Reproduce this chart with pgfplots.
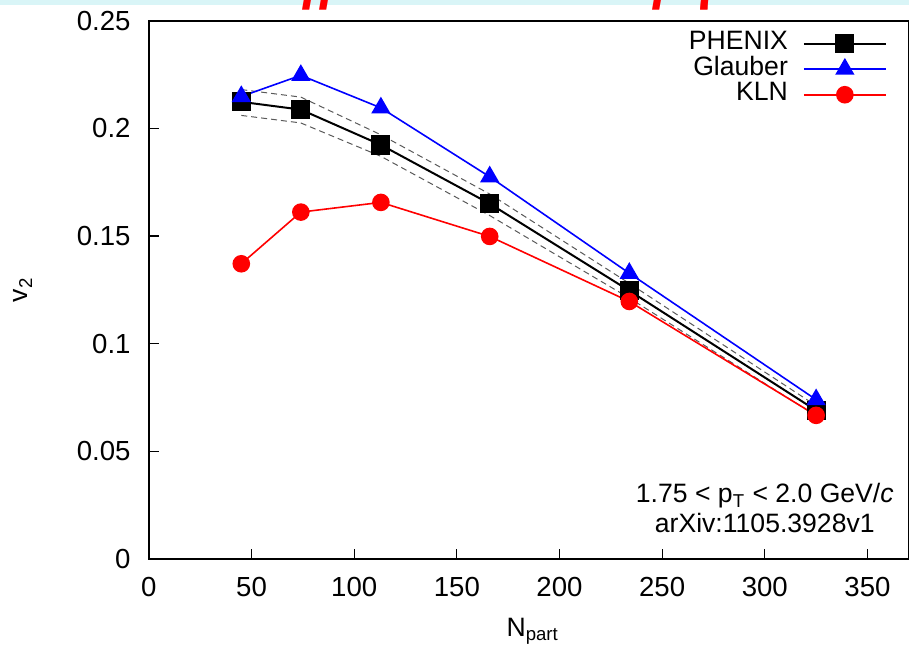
\documentclass[border=0pt]{standalone}
\usepackage{fontspec}
\setmainfont{Liberation Sans}
\newfontfamily\titlefont{Liberation Serif}
\usepackage{pgfplots}
\pgfplotsset{compat=1.18}
\definecolor{bandcyan}{rgb}{0.85,0.96,0.97}
\definecolor{dashgray}{rgb}{0.35,0.35,0.35}
\newcommand{\lblfont}{\fontsize{13.3}{16}\selectfont}
\newcommand{\tickfont}{\fontsize{13.8}{16}\selectfont}

\begin{document}
\begin{tikzpicture}
\begin{axis}[name=ax, scale only axis, width=380pt, height=269.3pt,
  xmin=0, xmax=370, ymin=0, ymax=0.25,
  xtick={0,50,100,150,200,250,300,350},
  ytick={0,0.05,0.1,0.15,0.2,0.25},
  yticklabels={0,0.05,0.1,0.15,0.2,0.25},
  xtick pos=bottom, ytick pos=left, tick align=inside,
  major tick length=5pt,
  axis line style={line width=1pt},
  tick style={line width=0.6pt, black},
  /pgf/number format/assume math mode=true,
  tick label style={font=\tickfont, inner sep=0pt},
  xticklabel style={yshift=-9pt},
  yticklabel style={xshift=-9pt},
  every axis y label/.style={at={(axis description cs:0,0.5)}, xshift=-63pt, rotate=90, anchor=center, font=\lblfont},
  every axis x label/.style={at={(axis description cs:0.5,0)}, anchor=north, yshift=-29.5pt, xshift=2pt, inner sep=0pt, font=\lblfont},
  ylabel={v\textsubscript{2}},
  xlabel={N\textsubscript{part}},
  legend plot pos=right,
  legend cell align=right,
  legend image code/.code={\draw[mark repeat=2,mark phase=2,#1] plot coordinates {(0pt,0pt) (20.5pt,0pt) (41pt,0pt)};},
  legend style={draw=none, fill=none, at={(rel axis cs:0.972,0.982)}, anchor=north east,
    font=\lblfont, inner sep=0pt, row sep=0pt, column sep=7.5pt,
    nodes={inner sep=0pt, text height=9.4pt, text depth=3.4pt}},
]
% PHENIX systematic band (dashed)
\addplot[dashgray, dashed, line width=0.5pt, dash pattern=on 3pt off 2pt, forget plot] coordinates {
  (45,0.2180) (74,0.2145) (113,0.1970) (166,0.1695) (234,0.1280) (325,0.0712)};
\addplot[dashgray, dashed, line width=0.5pt, dash pattern=on 3pt off 2pt, forget plot] coordinates {
  (45,0.2060) (74,0.2025) (113,0.1870) (166,0.1595) (234,0.1212) (325,0.0665)};
\addplot[black, line width=1pt, mark=square*, mark size=4.3pt, mark options={solid, fill=black}] coordinates {
  (45,0.2123) (74,0.2087) (113,0.1923) (166,0.1650) (234,0.1246) (325,0.0690)};
\addlegendentry{PHENIX}
\addplot[blue, line width=0.8pt, mark=triangle*, mark size=4.8pt, mark options={solid, fill=blue}] coordinates {
  (45,0.2148) (74,0.2246) (113,0.2095) (166,0.1775) (234,0.1327) (325,0.0740)};
\addlegendentry{Glauber}
\addplot[red, line width=0.8pt, mark=*, mark size=4pt, mark options={solid, fill=red}] coordinates {
  (45,0.1371) (74,0.1611) (113,0.1656) (166,0.1498) (234,0.1196) (325,0.0667)};
\addlegendentry{KLN}
\node[anchor=base, font=\lblfont, inner sep=0pt] at (axis cs:300,0.0261) {1.75 < p\textsubscript{T} < 2.0 GeV/\textit{c}};
\node[anchor=base, font=\lblfont, inner sep=0pt] at (axis cs:300,0.0122) {arXiv:1105.3928v1};
\end{axis}
\fill[bandcyan] ([shift={(-74.5pt,10.35pt)}]ax.north west) rectangle ([shift={(0.25pt,7.85pt)}]ax.north east);
\node[anchor=base west, inner sep=0pt, text=red, font=\titlefont\bfseries\itshape\fontsize{27.5}{32}\selectfont] at ([shift={(27pt,11.1pt)}]ax.north west) {at different values of η/s};
\pgfresetboundingbox
\path[use as bounding box] ([shift={(-74.5pt,-42.85pt)}]ax.south west) rectangle ([shift={(0.25pt,10.35pt)}]ax.north east);
\end{tikzpicture}
\end{document}
